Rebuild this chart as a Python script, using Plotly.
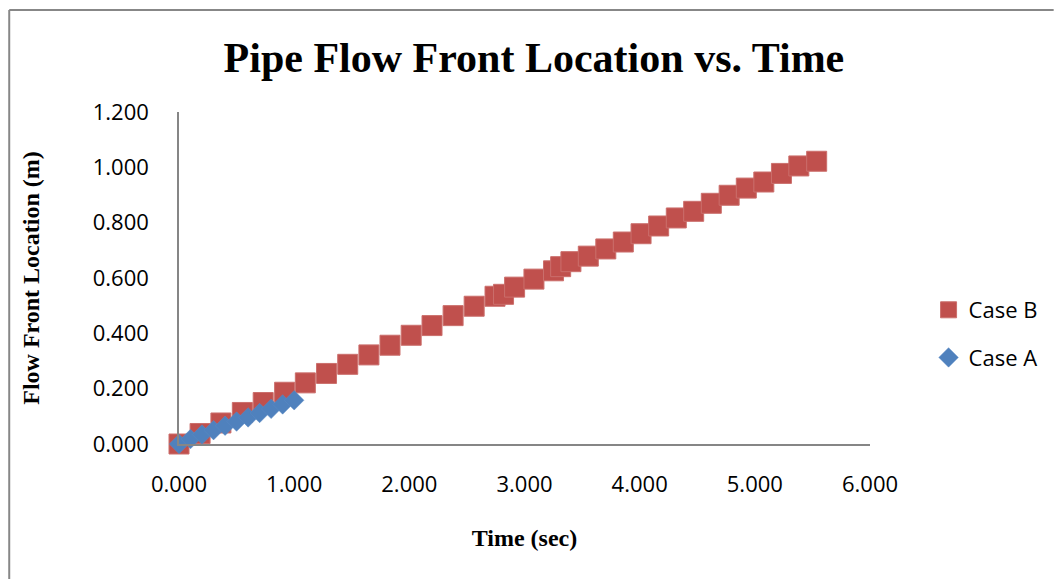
import plotly.graph_objects as go

# Flow front position (m) against time (s) for the two pipe-flow cases
case_b_time = [0.000, 0.183, 0.364, 0.550, 0.731, 0.917, 1.097, 1.281, 1.465, 1.649,
               1.832, 2.016, 2.197, 2.380, 2.563, 2.744, 2.818, 2.914, 3.082, 3.252,
               3.314, 3.403, 3.554, 3.706, 3.858, 4.012, 4.165, 4.318, 4.469, 4.622,
               4.777, 4.926, 5.078, 5.231, 5.382, 5.537]
case_b_front = [0.000, 0.038, 0.076, 0.114, 0.150, 0.187, 0.221, 0.255, 0.288, 0.322,
                0.357, 0.393, 0.428, 0.464, 0.498, 0.534, 0.541, 0.567, 0.596, 0.626,
                0.641, 0.659, 0.679, 0.705, 0.730, 0.760, 0.788, 0.817, 0.841, 0.870,
                0.899, 0.925, 0.947, 0.978, 1.005, 1.022]

case_a_time = [0.000, 0.100, 0.200, 0.300, 0.400, 0.500, 0.600, 0.700, 0.800, 0.900, 1.000]
case_a_front = [0.000, 0.018, 0.034, 0.050, 0.066, 0.081, 0.096, 0.112, 0.127, 0.143, 0.158]

x_ticks = [0, 1, 2, 3, 4, 5, 6]
y_ticks = [0.0, 0.2, 0.4, 0.6, 0.8, 1.0, 1.2]

W, H = 1055, 579
ML, MR, MT, MB = 179, 180, 112, 135
PW, PH = W - ML - MR, H - MT - MB

serif = "Liberation Serif"
sans = "Open Sans"
axis_grey = "#868686"

fig = go.Figure()

fig.add_trace(go.Scatter(
    x=case_b_time, y=case_b_front, name="Case B", mode="markers",
    legendgroup="b", cliponaxis=False,
    marker=dict(symbol="square", size=20, color="#C0504D",
                line=dict(width=1, color="#CB6F6C")),
))
fig.add_trace(go.Scatter(
    x=case_a_time, y=case_a_front, name="Case A", mode="markers",
    legendgroup="a", cliponaxis=False,
    marker=dict(symbol="diamond", size=15, color="#4F81BD",
                line=dict(width=0.5, color="#5B8BC4")),
))


def px_x(p):
    return (p - ML) / PW


def px_y(p):
    return (H - MB - p) / PH


fig.update_layout(
    width=W, height=H,
    margin=dict(l=ML, r=MR, t=MT, b=MB),
    paper_bgcolor="white", plot_bgcolor="white",
    title=dict(text="<b>Pipe Flow Front Location vs. Time</b>",
               font=dict(family=serif, size=42, color="black"),
               x=px_x(536.5), xref="paper", xanchor="center",
               y=1 - 57 / H, yref="container", yanchor="middle"),
    showlegend=True,
    legend=dict(x=px_x(934), y=px_y(334), xanchor="left", yanchor="middle",
                xref="paper", yref="paper", tracegroupgap=16,
                font=dict(family=sans, size=22, color="black"),
                bgcolor="rgba(0,0,0,0)"),
    xaxis=dict(range=[0, 6], tickvals=x_ticks,
               ticktext=[f"{v:.3f}" for v in x_ticks],
               showgrid=False, zeroline=False, showline=True,
               linecolor=axis_grey, linewidth=1.5, ticks="",
               ticklabelstandoff=20,
               tickfont=dict(family=sans, size=22, color="black"),
               title=dict(text="<b>Time (sec)</b>", standoff=32,
                          font=dict(family=serif, size=24, color="black"))),
    yaxis=dict(range=[0, 1.2], tickvals=y_ticks,
               ticktext=[f"{v:.3f}" for v in y_ticks],
               showgrid=False, zeroline=False, showline=True,
               linecolor=axis_grey, linewidth=1.5, ticks="",
               ticklabelstandoff=24,
               tickfont=dict(family=sans, size=22, color="black"),
               title=dict(text="<b>Flow Front Location (m)</b>", standoff=46,
                          font=dict(family=serif, size=24, color="black"))),
    shapes=[
        # chart-area frame: top and left edges
        dict(type="line", xref="paper", yref="paper",
             x0=px_x(8), x1=px_x(W + 5), y0=px_y(10), y1=px_y(10),
             line=dict(color="#878787", width=2)),
        dict(type="line", xref="paper", yref="paper",
             x0=px_x(8), x1=px_x(8), y0=px_y(10), y1=px_y(H + 5),
             line=dict(color="#878787", width=2)),
    ],
)

fig.write_html("out.html")
